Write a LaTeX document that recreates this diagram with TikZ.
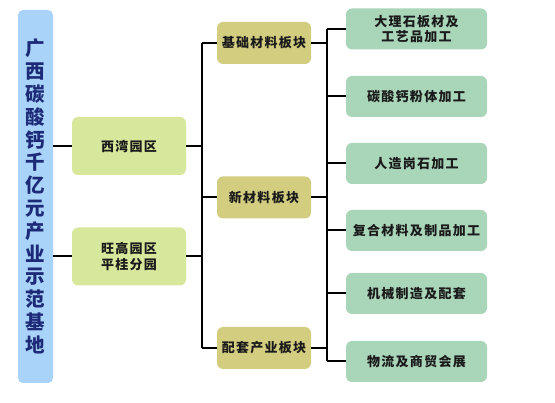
\documentclass[tikz,border=0pt]{standalone}
\usepackage{fontspec}
\newfontfamily\cjk[LetterSpace=10]{Noto Sans CJK SC}
\newfontfamily\cjktitle{Noto Sans CJK SC}
\usetikzlibrary{positioning,calc}
\definecolor{bgBar}{HTML}{A9D3F8}
\definecolor{bgPark}{HTML}{D7E89C}
\definecolor{bgBlock}{HTML}{D3CD80}
\definecolor{bgItem}{HTML}{A9D5B9}
\definecolor{tNavy}{HTML}{1C2A78}
\definecolor{tInk}{HTML}{1A1A1A}
\tikzset{
  box/.style      ={rounded corners=6pt,inner sep=1pt,align=center,text=tInk,
                    font=\cjk\bfseries\fontsize{13}{15.5}\selectfont},
  titlebar/.style ={rounded corners=5pt,fill=bgBar,minimum width=35pt,minimum height=373pt,
                    align=center,text=tNavy,inner sep=0pt,
                    font=\cjktitle\bfseries\fontsize{19.5}{22.8}\selectfont},
  parkbox/.style  ={box,fill=bgPark,minimum width=114pt,minimum height=58pt},
  blockbox/.style ={box,fill=bgBlock,minimum width=94pt,minimum height=42pt},
  itembox/.style  ={box,fill=bgItem,minimum width=141pt,minimum height=41pt},
  link/.style     ={black,line width=2pt},
}
\begin{document}
\begin{tikzpicture}[x=1pt,y=-1pt]
\useasboundingbox (0,0) rectangle (555,403);
% base
\node[titlebar] (base) at (35.5,196.5)
  {广\\西\\碳\\酸\\钙\\千\\亿\\元\\产\\业\\示\\范\\基\\地};
% parks
\node[parkbox] (xw) at (129,146) {西湾园区};
\node[parkbox] (wg) at (129,256.5) {旺高园区\\平桂分园};
% blocks
\node[blockbox] (jc)  at (264,43)    {基础材料板块};
\node[blockbox] (xcl) at (264,197.5) {新材料板块};
\node[blockbox] (pt)  at (264,348)   {配套产业板块};
% items
\foreach \i/\y/\t in {1/29/{大理石板材及\\工艺品加工}, 2/96.5/碳酸钙粉体加工,
                      3/163.5/人造岗石加工, 4/230.5/复合材料及制品加工,
                      5/293.5/机械制造及配套, 6/361.5/物流及商贸会展}
  \node[itembox] (r\i) at (416.5,\y) {\t};
\coordinate (busA) at (202,0);
\coordinate (busB) at (327,0);
% connectors
\foreach \p in {xw,wg}
  { \draw[link] (base.east |- \p) -- (\p.west);
    \draw[link] (\p.east) -- (\p.east -| busA); }
\draw[link] (busA |- jc) -- (busA |- pt);
\foreach \b in {jc,xcl,pt}
  { \draw[link] (busA |- \b) -- (\b.west);
    \draw[link] (\b.east) -- (\b.east -| busB); }
\draw[link] (busB |- r1) -- (busB |- r6);
\foreach \i in {1,...,6}
  \draw[link] (busB |- r\i) -- (r\i.west);
\end{tikzpicture}
\end{document}
